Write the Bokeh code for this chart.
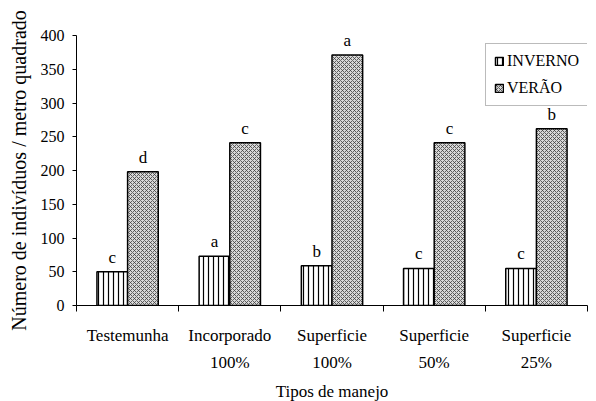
from bokeh.plotting import figure
from bokeh.models import FixedTicker, LinearAxis, Range1d, Legend, LegendItem, ColumnDataSource
from bokeh.core.properties import value
from bokeh.embed import file_html
from bokeh.resources import INLINE

# ---- data ----
categories_line1 = ["Testemunha", "Incorporado", "Superficie", "Superficie", "Superficie"]
categories_line2 = ["", "100%", "100%", "50%", "25%"]
inverno = [50, 73, 59, 55, 55]
verao = [198, 241, 371, 241, 262]
letters_inverno = ["c", "a", "b", "c", "c"]
letters_verao = ["d", "c", "a", "c", "b"]
y_ticks = [0, 50, 100, 150, 200, 250, 300, 350, 400]
series_names = ["INVERNO", "VERÃO"]
y_title = "Número de indivíduos / metro quadrado"
x_title = "Tipos de manejo"

FONT = "'Liberation Serif', 'Times New Roman', serif"
n = len(categories_line1)
centers = [i + 0.5 for i in range(n)]
bw = 0.3
x_inv = [c - bw / 2 for c in centers]
x_ver = [c + bw / 2 for c in centers]

src_inv = ColumnDataSource(dict(x=x_inv, top=inverno, lab=letters_inverno))
src_ver = ColumnDataSource(dict(x=x_ver, top=verao, lab=letters_verao))

p = figure(frame_width=511, frame_height=270, output_backend="svg", toolbar_location=None,
           x_range=Range1d(0, n), y_range=Range1d(0, 400),
           min_border_left=76, min_border_top=35, min_border_right=6, min_border_bottom=4)
p.outline_line_color = None
p.grid.visible = False

r_inv = p.vbar(x="x", top="top", width=bw, source=src_inv, fill_color="white",
               hatch_pattern="|", hatch_scale=5, hatch_weight=1.2, hatch_color="black",
               line_color="black", line_width=1.5)
r_ver = p.vbar(x="x", top="top", width=bw, source=src_ver, fill_color="#d8d8d8",
               hatch_pattern="x", hatch_scale=4, hatch_weight=0.8, hatch_color="#404040",
               line_color="black", line_width=1.5)

for src in (src_inv, src_ver):
    p.text(x="x", y="top", text="lab", source=src, text_align="center", text_baseline="bottom",
           y_offset=-5, text_font=value(FONT), text_font_size="17px", text_color="black")

# y axis
ya = p.yaxis[0]
ya.ticker = FixedTicker(ticks=y_ticks)
ya.minor_tick_line_color = None
ya.major_tick_in = 0
ya.major_tick_out = 4
ya.major_label_standoff = 8
ya.major_label_text_font = FONT
ya.major_label_text_font_size = "16px"
ya.major_label_text_color = "black"
ya.axis_line_color = "black"
ya.major_tick_line_color = "black"
ya.axis_label = y_title
ya.axis_label_text_font = FONT
ya.axis_label_text_font_size = "20px"
ya.axis_label_text_font_style = "normal"
ya.axis_label_text_color = "black"
ya.axis_label_standoff = 8

# x axis: first line labels + boundary ticks
xa = p.xaxis[0]
xa.ticker = FixedTicker(ticks=centers, minor_ticks=list(range(n + 1)))
xa.major_label_overrides = {c: t for c, t in zip(centers, categories_line1)}
xa.major_tick_line_color = None
xa.major_tick_in = 0
xa.major_tick_out = 6
xa.minor_tick_in = 0
xa.minor_tick_out = 6
xa.minor_tick_line_color = "black"
xa.axis_line_color = "black"
xa.major_label_standoff = 14
xa.major_label_text_font = FONT
xa.major_label_text_font_size = "17px"
xa.major_label_text_color = "black"

# second line labels
xb = LinearAxis(ticker=FixedTicker(ticks=centers, minor_ticks=[]),
                major_label_overrides={c: t for c, t in zip(centers, categories_line2)})
xb.axis_line_color = None
xb.major_tick_line_color = None
xb.minor_tick_line_color = None
xb.major_tick_in = 0
xb.major_tick_out = 0
xb.major_label_standoff = 5
xb.major_label_text_font = FONT
xb.major_label_text_font_size = "17px"
xb.major_label_text_color = "black"
xb.axis_label = x_title
xb.axis_label_text_font = FONT
xb.axis_label_text_font_size = "17px"
xb.axis_label_text_font_style = "normal"
xb.axis_label_text_color = "black"
xb.axis_label_standoff = 7
p.add_layout(xb, "below")

legend = Legend(items=[LegendItem(label=series_names[0], renderers=[r_inv]),
                       LegendItem(label=series_names[1], renderers=[r_ver])],
                location=(409, 199))
legend.label_text_font = FONT
legend.label_text_font_size = "16px"
legend.label_text_color = "black"
legend.glyph_width = 10
legend.glyph_height = 10
legend.label_standoff = 3
legend.spacing = 9
legend.padding = 8
legend.margin = 0
legend.border_line_color = "#777777"
legend.border_line_width = 1
legend.background_fill_alpha = 1
p.add_layout(legend, "center")

open("out.html", "w").write(file_html(p, INLINE))
